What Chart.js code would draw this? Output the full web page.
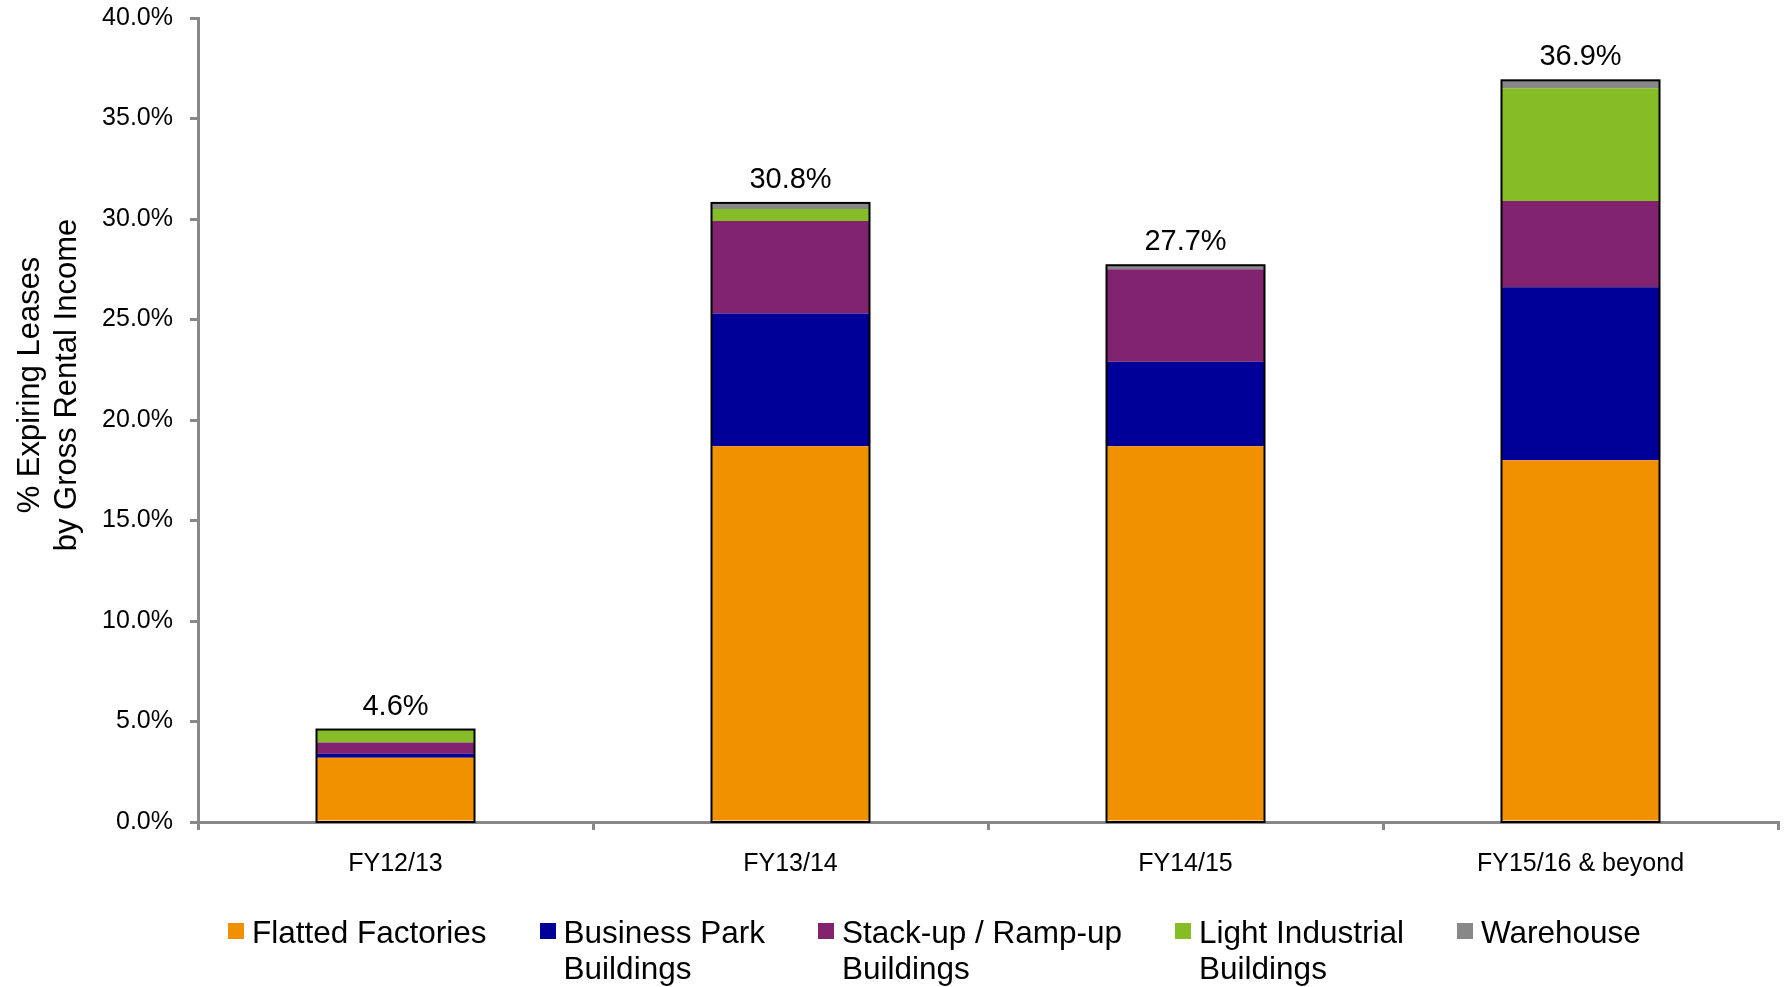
<!DOCTYPE html>
<html>
<head>
<meta charset="utf-8">
<script src="https://cdn.jsdelivr.net/npm/chart.js@4.4.1/dist/chart.umd.min.js"></script>
<style>
  html, body { margin: 0; padding: 0; background: #fff; }
  #wrap { position: relative; width: 1785px; height: 987px; overflow: hidden; }
  #legend {
    position: absolute; left: 228px; top: 914px;
    display: flex; gap: 53px;
    font-family: "Liberation Sans", Arial, sans-serif;
    font-size: 31.5px; line-height: 36px; color: #000;
  }
  .item { display: flex; align-items: flex-start; }
  .box { width: 16px; height: 16px; margin-top: 9px; margin-right: 8px; flex: none; }
</style>
</head>
<body>
<div id="wrap">
  <canvas id="leaseChart" width="1785" height="987"></canvas>
  <div id="legend"></div>
</div>
<script>
// categories and stacked values (% of gross rental income)
const categories = ['FY12/13', 'FY13/14', 'FY14/15', 'FY15/16 & beyond'];
const flattedFactories = [3.2, 18.7, 18.7, 18.0];
const businessPark = [0.2, 6.6, 4.2, 8.6];
const stackUp = [0.55, 4.6, 4.6, 4.3];
const lightIndustrial = [0.65, 0.6, 0, 5.6];
const warehouse = [0, 0.3, 0.2, 0.4];

const seriesNames = [
  ['Flatted Factories'],
  ['Business Park', 'Buildings'],
  ['Stack-up / Ramp-up', 'Buildings'],
  ['Light Industrial', 'Buildings'],
  ['Warehouse']
];
const seriesColors = ['#F29100', '#000099', '#822370', '#86BC25', '#888888'];
const yTitle = ['% Expiring Leases', 'by Gross Rental Income'];

const FONT = '"Liberation Sans", Arial, sans-serif';
const seriesData = [flattedFactories, businessPark, stackUp, lightIndustrial, warehouse];
const totals = categories.map((c, i) => seriesData.reduce((s, arr) => s + arr[i], 0));

// black outline round each stack + total label on top
const totalsPlugin = {
  id: 'totals',
  afterDatasetsDraw(chart) {
    const ctx = chart.ctx;
    const y = chart.scales.y;
    const meta = chart.getDatasetMeta(0);
    ctx.save();
    categories.forEach((c, i) => {
      const bar = meta.data[i];
      const top = y.getPixelForValue(totals[i]);
      const bottom = y.getPixelForValue(0);
      ctx.strokeStyle = '#000';
      ctx.lineWidth = 2;
      ctx.strokeRect(bar.x - bar.width / 2, top, bar.width, bottom - top);
      ctx.fillStyle = '#000';
      ctx.font = '29px ' + FONT;
      ctx.textAlign = 'center';
      ctx.textBaseline = 'alphabetic';
      ctx.fillText(totals[i].toFixed(1) + '%', bar.x, top - 15);
    });
    ctx.restore();
  }
};

// rotated two-line y axis title
const yTitlePlugin = {
  id: 'yTitle',
  afterDraw(chart) {
    const ctx = chart.ctx;
    ctx.save();
    ctx.translate(0, 385);
    ctx.rotate(-Math.PI / 2);
    ctx.fillStyle = '#000';
    ctx.font = '31px ' + FONT;
    ctx.textAlign = 'center';
    ctx.textBaseline = 'middle';
    ctx.fillText(yTitle[0], 0, 30);
    ctx.fillText(yTitle[1], 0, 67);
    ctx.restore();
  }
};

const ctx = document.getElementById('leaseChart').getContext('2d');
new Chart(ctx, {
  type: 'bar',
  data: {
    labels: categories,
    datasets: seriesData.map((d, k) => ({
      label: seriesNames[k].join(' '),
      data: d,
      backgroundColor: seriesColors[k],
      borderWidth: 0,
      barPercentage: 0.4,
      categoryPercentage: 1
    }))
  },
  options: {
    responsive: false,
    animation: false,
    layout: { padding: { top: 18, right: 7, bottom: 89, left: 0 } },
    plugins: {
      legend: { display: false },
      tooltip: { enabled: false }
    },
    scales: {
      x: {
        stacked: true,
        z: 1,
        grid: { offset: true, drawOnChartArea: false, color: '#888', lineWidth: 3, tickLength: 8 },
        border: { color: '#888', width: 3 },
        ticks: { color: '#000', font: { family: FONT, size: 25 }, padding: 19, maxRotation: 0 }
      },
      y: {
        stacked: true,
        min: 0,
        max: 40,
        afterFit(scale) {
          scale.width = 198;
          scale.paddingTop = 0;
          scale.paddingBottom = 0;
        },
        grid: { drawOnChartArea: false, color: '#888', lineWidth: 3, tickLength: 8 },
        border: { color: '#888', width: 3 },
        ticks: {
          stepSize: 5,
          color: '#000',
          font: { family: FONT, size: 25 },
          padding: 17,
          callback: v => v.toFixed(1) + '%'
        }
      }
    }
  },
  plugins: [totalsPlugin, yTitlePlugin]
});

// html legend built from the series arrays
const legendEl = document.getElementById('legend');
seriesNames.forEach((lines, k) => {
  const item = document.createElement('div');
  item.className = 'item';
  const box = document.createElement('span');
  box.className = 'box';
  box.style.background = seriesColors[k];
  const txt = document.createElement('span');
  txt.innerHTML = lines.join('<br>');
  item.appendChild(box);
  item.appendChild(txt);
  legendEl.appendChild(item);
});
</script>
</body>
</html>
